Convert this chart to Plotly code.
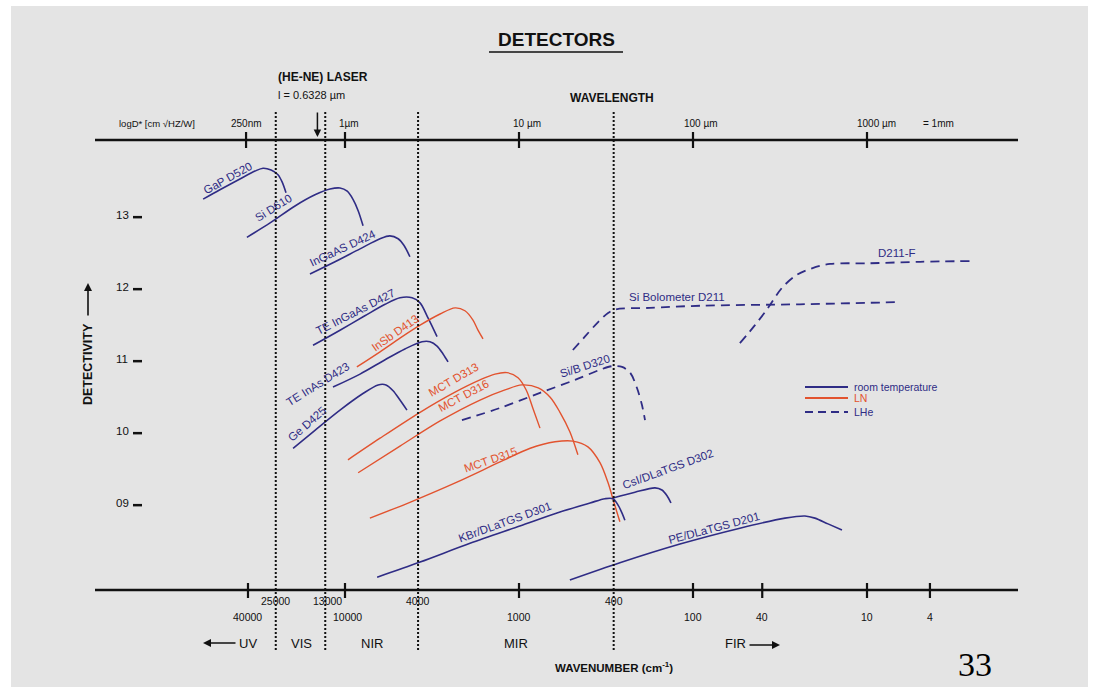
import math
import plotly.graph_objects as go

# ---------------- data (wavelength in µm, log10 D* ) ----------------
gap_wl = [0.153, 0.191, 0.249, 0.304, 0.338, 0.376, 0.412, 0.435, 0.458]
gap_d = [13.22, 13.35, 13.50, 13.61, 13.65, 13.625, 13.56, 13.46, 13.31]

si_wl = [0.273, 0.371, 0.516, 0.672, 0.820, 0.936, 1.03, 1.11, 1.19, 1.27]
si_d = [12.69, 12.89, 13.125, 13.28, 13.36, 13.375, 13.33, 13.22, 13.06, 12.85]

ingaas_wl = [0.629, 0.876, 1.22, 1.59, 1.81, 2.02, 2.18, 2.36]
ingaas_d = [12.18, 12.35, 12.53, 12.67, 12.71, 12.67, 12.58, 12.42]

teingaas_wl = [0.655, 0.936, 1.30, 1.70, 2.07, 2.43, 2.70, 3.00, 3.38]
teingaas_d = [11.19, 11.40, 11.60, 11.76, 11.85, 11.85, 11.78, 11.57, 11.31]

insb_wl = [1.17, 1.59, 2.07, 2.70, 3.52, 4.29, 4.89, 5.44, 5.81, 6.21]
insb_d = [10.89, 11.10, 11.29, 11.47, 11.625, 11.71, 11.67, 11.54, 11.40, 11.28]

teinas_wl = [0.853, 1.22, 1.70, 2.21, 2.77, 3.08, 3.38, 3.66, 3.91]
teinas_d = [10.61, 10.79, 10.99, 11.14, 11.24, 11.24, 11.18, 11.07, 10.96]

ge_wl = [0.503, 0.672, 0.936, 1.25, 1.55, 1.72, 1.89, 2.07, 2.27]
ge_d = [9.76, 10.01, 10.29, 10.51, 10.64, 10.64, 10.56, 10.43, 10.29]

mct313_wl = [1.04, 1.59, 2.70, 4.29, 5.97, 7.28, 8.53, 9.87, 11.0, 12.0, 13.2]
mct313_d = [9.60, 9.90, 10.26, 10.54, 10.71, 10.79, 10.81, 10.74, 10.57, 10.32, 10.04]

mct316_wl = [1.19, 2.07, 3.52, 5.97, 8.31, 10.4, 12.9, 15.1, 17.2, 19.6, 21.8]
mct316_d = [9.42, 9.79, 10.14, 10.43, 10.57, 10.64, 10.60, 10.47, 10.26, 9.99, 9.67]

mct315_wl = [1.39, 2.36, 4.40, 7.78, 11.6, 16.1, 20.4, 24.9, 29.2, 32.5, 35.2, 38.0]
mct315_d = [8.79, 9.01, 9.29, 9.57, 9.76, 9.85, 9.86, 9.78, 9.56, 9.28, 9.00, 8.74]

kbr_wl = [1.53, 2.70, 5.23, 10.1, 17.2, 25.6, 31.2, 34.7, 37.1, 39.1, 40.6]
kbr_d = [7.97, 8.18, 8.44, 8.68, 8.875, 9.00, 9.06, 9.06, 8.97, 8.86, 8.76]

csi_wl = [34.7, 46.4, 60.5, 66.3, 70.9, 74.7]
csi_d = [9.07, 9.15, 9.21, 9.18, 9.10, 9.00]

pe_wl = [19.6, 38.0, 84.2, 186, 338, 440, 502, 597, 718]
pe_d = [7.93, 8.17, 8.43, 8.65, 8.79, 8.82, 8.79, 8.71, 8.625]

sibolo_wl = [20.4, 23.9, 28.4, 32.5, 36.1, 56.6, 110, 412, 1507]
sibolo_d = [11.125, 11.31, 11.51, 11.64, 11.69, 11.71, 11.74, 11.76, 11.79]

d211f_wl = [186, 227, 270, 325, 396, 483, 613, 1041, 2018, 3908]
d211f_d = [11.22, 11.47, 11.71, 11.99, 12.17, 12.26, 12.32, 12.33, 12.35, 12.36]

sib_wl = [4.70, 7.78, 13.2, 21.0, 29.2, 34.2, 39.1, 43.5, 47.6, 50.9, 53.0]
sib_d = [10.15, 10.32, 10.53, 10.71, 10.85, 10.90, 10.89, 10.81, 10.60, 10.36, 10.15]

# top axis (wavelength) ticks
wl_tick_um = [0.27, 1, 10, 100, 1000]
wl_tick_text = ["250nm", "1µm", "10 µm", "100 µm", "1000 µm"]

# bottom axis (wavenumber) labels and drawn positions (µm)
wn_labels = ["40000", "25000", "13000", "10000", "4000", "1000", "400", "100", "40", "10", "4"]
wn_pos_um = [0.277, 0.4, 0.77, 1.0, 2.63, 10, 35, 100, 250, 1000, 2300]
wn_is_boundary = [0, 1, 1, 0, 1, 0, 1, 0, 0, 0, 0]

# detectivity ticks
d_ticks = [13, 12, 11, 10, 9]
d_tick_text = ["13", "12", "11", "10", "09"]

laser_um = 0.6328

# ---------------- layout helpers ----------------
W, H = 1099, 693
ML, MR, MT, MB = 11, 11, 6, 6
X1UM, XDEC, Y13, YUNIT = 345, 174, 215, 72
xr = [(ML - X1UM) / XDEC, (W - MR - X1UM) / XDEC]
yr = [13 - (H - MB - Y13) / YUNIT, 13 + (Y13 - MT) / YUNIT]


def PX(px):
    return (px - ML) / (W - ML - MR)


def PY(py):
    return 1 - (py - MT) / (H - MT - MB)


def A(**kw):
    kw.setdefault("xanchor", "center")
    kw.setdefault("yanchor", "middle")
    kw.setdefault("showarrow", False)
    return kw


NAVY = "#2f2c85"
ORANGE = "#e2532f"
BLACK = "#111111"
FONT = "Liberation Sans, Arial, sans-serif"

fig = go.Figure()

curves = [
    (gap_wl, gap_d, "rt"), (si_wl, si_d, "rt"), (ingaas_wl, ingaas_d, "rt"),
    (teingaas_wl, teingaas_d, "rt"), (insb_wl, insb_d, "ln"), (teinas_wl, teinas_d, "rt"),
    (ge_wl, ge_d, "rt"), (mct313_wl, mct313_d, "ln"), (mct316_wl, mct316_d, "ln"),
    (mct315_wl, mct315_d, "ln"), (kbr_wl, kbr_d, "rt"), (csi_wl, csi_d, "rt"),
    (pe_wl, pe_d, "rt"), (sibolo_wl, sibolo_d, "lhe"), (d211f_wl, d211f_d, "lhe"),
    (sib_wl, sib_d, "lhe"),
]
style = {
    "rt": dict(color=NAVY, width=1.6, dash="solid"),
    "ln": dict(color=ORANGE, width=1.4, dash="solid"),
    "lhe": dict(color=NAVY, width=1.8, dash="9px,6px"),
}
for wl, d, kind in curves:
    fig.add_trace(go.Scatter(x=wl, y=d, mode="lines", showlegend=False, hoverinfo="skip",
                             line=dict(shape="spline", smoothing=0.9, **style[kind])))

shapes = []
ann = []

# axis lines
for py in (140, 590):
    shapes.append(dict(type="line", xref="paper", yref="paper", x0=PX(95), x1=PX(1018),
                       y0=PY(py), y1=PY(py), line=dict(color=BLACK, width=2.6)))
# top ticks
for v in wl_tick_um:
    shapes.append(dict(type="line", xref="x", yref="paper", x0=v, x1=v, y0=PY(132), y1=PY(148),
                       line=dict(color=BLACK, width=2.2)))
for v, t, xs in zip(wl_tick_um, wl_tick_text, [0, 4, 8, 8, 9]):
    ann.append(A(x=math.log10(v), y=PY(123), xref="x", yref="paper", text=t,
                 xshift=xs, font=dict(size=10, color=BLACK)))
ann.append(A(x=PX(938), y=PY(123), xref="paper", yref="paper", text="= 1mm",
             font=dict(size=10, color=BLACK)))
ann.append(A(x=PX(157), y=PY(123), xref="paper", yref="paper", text="logD* [cm √HZ/W]",
             font=dict(size=9.5, color=BLACK)))

# bottom ticks, dotted boundaries and labels
for v, t, b in zip(wn_pos_um, wn_labels, wn_is_boundary):
    if b:
        shapes.append(dict(type="line", xref="x", yref="paper", x0=v, x1=v, y0=PY(112), y1=PY(652),
                           line=dict(color=BLACK, width=2, dash="2px,2px")))
        yl = 601
    else:
        shapes.append(dict(type="line", xref="x", yref="paper", x0=v, x1=v, y0=PY(583), y1=PY(598),
                           line=dict(color=BLACK, width=2.2)))
        yl = 617
    ann.append(A(x=math.log10(v), y=PY(yl), xref="x", yref="paper", text=t,
                 xshift=2 if t in ("13000", "10000") else 0,
                 font=dict(size=10.5, color=BLACK)))

# region labels
for t, px in [("UV", 248), ("VIS", 301), ("NIR", 372), ("MIR", 516), ("FIR", 735)]:
    ann.append(A(x=PX(px), y=PY(643), xref="paper", yref="paper", text=t,
                 font=dict(size=13, color=BLACK)))
ann.append(dict(x=PX(203), y=PY(643), ax=34, ay=0, xref="paper", yref="paper", text="",
                showarrow=True, arrowhead=2, arrowsize=1, arrowwidth=1.6, arrowcolor=BLACK))
ann.append(dict(x=PX(780), y=PY(645), ax=-32, ay=0, xref="paper", yref="paper", text="",
                showarrow=True, arrowhead=2, arrowsize=1, arrowwidth=1.6, arrowcolor=BLACK))
ann.append(A(x=PX(614), y=PY(667), xref="paper", yref="paper",
             text="<b>WAVENUMBER (cm<sup>-1</sup>)</b>", font=dict(size=11.5, color=BLACK)))

# detectivity ticks
for v, t in zip(d_ticks, d_tick_text):
    ann.append(A(x=PX(122), y=v, xref="paper", yref="y", text=t,
                 font=dict(size=11.5, color=BLACK)))
    shapes.append(dict(type="line", xref="paper", yref="y", x0=PX(133), x1=PX(142), y0=v - 0.03, y1=v - 0.03,
                       line=dict(color=BLACK, width=2.5)))
ann.append(A(x=PX(88), y=PY(364), xref="paper", yref="paper", text="<b>DETECTIVITY</b>",
             textangle=-90, font=dict(size=12.5, color=BLACK)))
ann.append(dict(x=PX(88), y=PY(283), ax=0, ay=34, xref="paper", yref="paper", text="",
                showarrow=True, arrowhead=2, arrowsize=1, arrowwidth=1.6, arrowcolor=BLACK))

# title and header texts
ann.append(A(x=PX(556), y=PY(40), xref="paper", yref="paper", text="<b>DETECTORS</b>",
             font=dict(size=19, color=BLACK)))
shapes.append(dict(type="line", xref="paper", yref="paper", x0=PX(489), x1=PX(623), y0=PY(52), y1=PY(52),
                   line=dict(color=BLACK, width=1.6)))
ann.append(A(x=PX(612), y=PY(98), xref="paper", yref="paper", text="<b>WAVELENGTH</b>",
             font=dict(size=12, color=BLACK)))
ann.append(A(x=PX(323), y=PY(77), xref="paper", yref="paper", text="<b>(HE-NE) LASER</b>",
             font=dict(size=12, color=BLACK)))
ann.append(A(x=PX(311), y=PY(95), xref="paper", yref="paper", text="l = 0.6328 µm",
             font=dict(size=11, color=BLACK)))
ann.append(dict(x=math.log10(laser_um), y=PY(137), ax=0, ay=-26, xref="x", yref="paper", text="",
                xshift=7, showarrow=True, arrowhead=2, arrowsize=1, arrowwidth=1.5, arrowcolor=BLACK))

# curve labels
labels = [
    ("GaP D520", 228, 178, -29, NAVY), ("Si D610", 273, 208, -32, NAVY),
    ("InGaAS D424", 343, 248, -25, NAVY), ("TE InGaAs D427", 355, 312, -27, NAVY),
    ("InSb D413", 395, 333, -35, ORANGE), ("TE InAs D423", 318, 384, -32, NAVY),
    ("Ge D425", 307, 424, -41, NAVY), ("MCT D313", 453, 380, -30, ORANGE),
    ("MCT D316", 463, 396, -28, ORANGE), ("MCT D315", 490, 460, -19, ORANGE),
    ("Si/B D320", 585, 366, -18, NAVY), ("Si Bolometer D211", 677, 297, 0, NAVY),
    ("D211-F", 897, 253, 0, NAVY), ("KBr/DLaTGS D301", 505, 522, -20, NAVY),
    ("CsI/DLaTGS D302", 668, 469, -20, NAVY), ("PE/DLaTGS D201", 714, 528, -15, NAVY),
]
for t, cx, cy, ang, col in labels:
    ann.append(A(x=PX(cx), y=PY(cy), xref="paper", yref="paper", text=t, textangle=ang,
                 font=dict(size=11.5, color=col)))

# legend
for (t, col, dash, py) in [("room temperature", NAVY, "solid", 387), ("LN", ORANGE, "solid", 398),
                           ("LHe", NAVY, "8px,5px", 412)]:
    shapes.append(dict(type="line", xref="paper", yref="paper", x0=PX(805), x1=PX(848), y0=PY(py), y1=PY(py),
                       line=dict(color=col, width=1.8, dash=dash)))
    ann.append(A(x=PX(852), y=PY(py), xref="paper", yref="paper", text=t, xanchor="left",
                 font=dict(size=10.5, color=col)))

# slide number
ann.append(A(x=PX(975), y=PY(664), xref="paper", yref="paper", text="33",
             font=dict(size=34, color="#000000", family="Liberation Serif, Times New Roman, serif")))

fig.update_layout(
    width=W, height=H, margin=dict(l=ML, r=MR, t=MT, b=MB),
    paper_bgcolor="white", plot_bgcolor="#e4e4e4",
    font=dict(family=FONT, color=BLACK),
    xaxis=dict(type="log", range=xr, visible=False, showgrid=False, zeroline=False, fixedrange=True),
    yaxis=dict(range=yr, visible=False, showgrid=False, zeroline=False, fixedrange=True),
    shapes=shapes, annotations=ann, showlegend=False,
)

fig.write_html("out.html", config={"displayModeBar": False},
               post_script="document.body.style.margin='0';")
